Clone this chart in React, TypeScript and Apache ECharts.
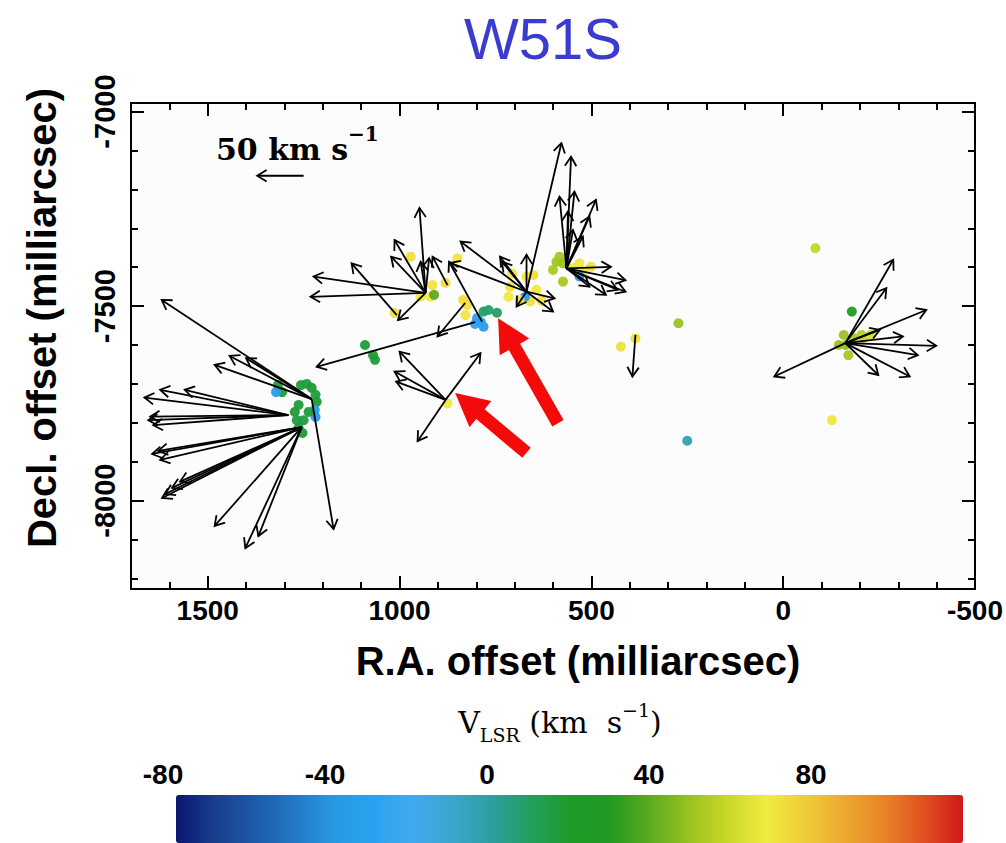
import React, { useEffect, useRef } from "react";
import * as echarts from "echarts";

// ---------- axis ticks ----------
const X_MAJOR_TICKS = [-500, 0, 500, 1000, 1500];
const X_MINOR_TICKS = [-500, -400, -300, -200, -100, 0, 100, 200, 300, 400, 500, 600, 700, 800, 900, 1000, 1100, 1200, 1300, 1400, 1500, 1600, 1700];
const Y_MAJOR_TICKS = [-8000, -7500, -7000];
const Y_MINOR_TICKS = [-8200, -8100, -8000, -7900, -7800, -7700, -7600, -7500, -7400, -7300, -7200, -7100, -7000];
const CBAR_TICKS = [-80, -40, 0, 40, 80];
const X_RANGE = [-500, 1700];
const Y_RANGE = [-8227, -6978];
const V_RANGE = [-77, 117];

// colour scale, evenly spaced along the colour bar
const CBAR_COLORS = [
  "#0b1670", "#183f8c", "#1d5aa8", "#2378c6", "#2898e4", "#2aa2f0", "#40aaf0",
  "#3aa6d0", "#2ca0a0", "#22a060", "#1e9a2a", "#209a20", "#58aa20", "#98c020",
  "#c8d828", "#f0ec40", "#f0cc38", "#eca830", "#e88428", "#e05020", "#d01818",
];

// ---------- maser spots: [R.A. offset, Decl. offset, V_LSR] ----------
const SPOTS_WEST: number[][] = [
  [1317, -7703, 16], [1306, -7721, 18], [1322, -7721, -34], [1257, -7703, 17], [1242, -7700, 15],
  [1229, -7710, 18], [1219, -7728, 16], [1216, -7746, 19], [1221, -7767, -36], [1219, -7785, -33],
  [1263, -7754, 17], [1273, -7772, 18], [1250, -7793, 16], [1263, -7813, 17], [1253, -7826, 19],
  [1268, -7793, 15], [1237, -7772, 17],
];
const SPOTS_MID_GREEN: number[][] = [[1090, -7600, 17], [1069, -7626, 18], [1064, -7638, 17]];
const SPOTS_B: number[][] = [
  [971, -7373, 72], [914, -7446, 71], [880, -7440, 73], [919, -7476, 70], [910, -7471, 40],
  [1013, -7518, 72], [849, -7377, 71], [945, -7476, 70], [875, -7750, 70],
];
const SPOTS_BLUE: number[][] = [
  [824, -7497, 72], [828, -7523, 70], [834, -7484, 73], [798, -7531, -30], [781, -7553, -33],
  [788, -7541, -31], [803, -7546, -28], [781, -7514, 10], [768, -7510, 8], [746, -7517, 10],
];
const SPOTS_C: number[][] = [
  [712, -7450, 72], [716, -7476, 70], [660, -7488, 72], [630, -7486, 71], [669, -7424, 70],
  [651, -7420, 73], [707, -7416, 71], [673, -7476, -32], [687, -7484, 72], [643, -7458, 70],
];
const SPOTS_D: number[][] = [
  [583, -7373, 52], [574, -7390, 50], [600, -7407, 53], [591, -7386, 51], [531, -7390, 70],
  [501, -7399, 72], [522, -7411, 71], [574, -7437, 52], [531, -7424, -30], [547, -7402, 68],
];
const SPOTS_EAST: number[][] = [
  [423, -7604, 72], [385, -7583, 73], [273, -7544, 50], [250, -7846, -2],
  [-84, -7351, 58], [-179, -7514, 30], [-158, -7574, 50], [-183, -7582, 52], [-204, -7574, 55],
  [-163, -7600, 48], [-145, -7600, 50], [-170, -7626, 52], [-209, -7582, 60], [-227, -7574, 62],
  [-127, -7793, 70],
];

// ---------- proper-motion vectors: origin + arrow heads ----------
const A1_ORIGIN = [1229, -7739];
const A1_HEADS = [[1620, -7484], [1443, -7628], [1400, -7634], [1482, -7651], [1172, -8073]];
const A3_ORIGIN = [1290, -7780];
const A3_HEADS = [[1624, -7715], [1665, -7735], [1560, -7715], [1650, -7784], [1642, -7806], [1655, -7793]];
const A2_ORIGIN = [1255, -7811];
const A2_HEADS = [[1645, -7880], [1624, -7895], [1629, -7872], [1619, -7993], [1593, -7967], [1572, -7951], [1611, -7983], [1482, -8065], [1402, -8122], [1368, -8091]];
const B_ORIGIN = [932, -7466];
const B_HEADS = [[1224, -7424], [1232, -7476], [1013, -7330], [1022, -7373], [948, -7248], [945, -7386], [923, -7377], [1004, -7536]];
const C_ORIGIN = [669, -7463];
const C_HEADS = [[841, -7334], [868, -7389], [578, -7081], [738, -7373], [733, -7386], [669, -7368], [695, -7501], [600, -7514], [596, -7480]];
const D_ORIGIN = [565, -7403];
const D_HEADS = [[553, -7116], [583, -7219], [544, -7206], [561, -7257], [488, -7227], [505, -7270], [548, -7304], [522, -7321], [449, -7399], [411, -7433], [411, -7463], [462, -7471], [432, -7458], [505, -7450]];
const E_ORIGIN = [-162, -7595];
const E_HEADS = [[-287, -7381], [-269, -7454], [-373, -7510], [-399, -7602], [-351, -7626], [-248, -7677], [-330, -7681], [23, -7681], [-312, -7578], [-252, -7561]];
const F_ORIGIN = [880, -7741];
const F_HEADS = [[1000, -7617], [1013, -7668], [1009, -7694], [789, -7621], [953, -7847]];
// single vectors: [x0, y0, x1, y1]
const SINGLE_VECTORS = [
  [1007, -7523, 1125, -7390], [875, -7446, 914, -7373], [829, -7492, 901, -7578],
  [785, -7540, 871, -7386], [803, -7541, 1216, -7656], [385, -7574, 393, -7681],
];
const SCALE_VECTOR = [1250, -7165, 1371, -7165];
// red annotation arrows: [tail x, tail y, tip x, tip y]
const RED_ARROWS = [[587, -7801, 743, -7531], [669, -7877, 855, -7723]];

const SANS = "'Liberation Sans', Arial, sans-serif";
const SERIF = "'DejaVu Serif', serif";

function fan(origin: number[], heads: number[][]) {
  return heads.map((h) => [origin[0], origin[1], h[0], h[1]]);
}

export default function App() {
  const ref = useRef<HTMLDivElement>(null);
  useEffect(() => {
    if (!ref.current) return;
    const chart = echarts.init(ref.current, null, { renderer: "svg" });
    const spots = [...SPOTS_WEST, ...SPOTS_MID_GREEN, ...SPOTS_B, ...SPOTS_BLUE, ...SPOTS_C, ...SPOTS_D, ...SPOTS_EAST];
    const vectors = [
      ...fan(A1_ORIGIN, A1_HEADS), ...fan(A3_ORIGIN, A3_HEADS), ...fan(A2_ORIGIN, A2_HEADS),
      ...fan(B_ORIGIN, B_HEADS), ...fan(C_ORIGIN, C_HEADS), ...fan(D_ORIGIN, D_HEADS),
      ...fan(E_ORIGIN, E_HEADS), ...fan(F_ORIGIN, F_HEADS), ...SINGLE_VECTORS, SCALE_VECTOR,
    ];
    const plain = (v: number) => String(v);
    const tickFont = { color: "#000", fontSize: 28, fontWeight: "bold", fontFamily: SANS, formatter: plain };
    const tick = (len: number) => ({ show: true, inside: true, length: len, lineStyle: { color: "#000", width: 2 } });
    const line = { show: true, onZero: false, lineStyle: { color: "#000", width: 2 } };
    const noLine = { show: false, onZero: false };
    const xBase = { type: "value", gridIndex: 0, inverse: true, min: X_RANGE[0], max: X_RANGE[1], splitLine: { show: false } };
    const yBase = { type: "value", gridIndex: 0, min: Y_RANGE[0], max: Y_RANGE[1], splitLine: { show: false } };

    const option: any = {
      animation: false,
      backgroundColor: "#ffffff",
      grid: [
        { left: 131, right: 23, top: 103, bottom: 254, show: true, borderColor: "#000", borderWidth: 2, backgroundColor: "#fcfcfc" },
        { left: 163, width: 810, top: 795, height: 40 },
      ],
      xAxis: [
        { ...xBase, position: "bottom", axisLine: line,
          axisTick: { ...tick(13), customValues: X_MAJOR_TICKS },
          axisLabel: { ...tickFont, margin: 7, customValues: X_MAJOR_TICKS } },
        { ...xBase, position: "bottom", axisLine: noLine,
          axisTick: { ...tick(7), customValues: X_MINOR_TICKS }, axisLabel: { show: false } },
        { ...xBase, position: "top", axisLine: line,
          axisTick: { ...tick(13), customValues: X_MAJOR_TICKS }, axisLabel: { show: false } },
        { ...xBase, position: "top", axisLine: noLine,
          axisTick: { ...tick(7), customValues: X_MINOR_TICKS }, axisLabel: { show: false } },
        { type: "value", gridIndex: 1, position: "top", min: -80, max: 120,
          axisLine: noLine, axisTick: { show: false }, splitLine: { show: false },
          axisLabel: { ...tickFont, margin: 7, customValues: CBAR_TICKS } },
      ],
      yAxis: [
        { ...yBase, position: "left", axisLine: line,
          axisTick: { ...tick(13), customValues: Y_MAJOR_TICKS },
          axisLabel: { ...tickFont, fontSize: 29, rotate: 90, margin: 12, customValues: Y_MAJOR_TICKS } },
        { ...yBase, position: "left", axisLine: noLine,
          axisTick: { ...tick(7), customValues: Y_MINOR_TICKS }, axisLabel: { show: false } },
        { ...yBase, position: "right", axisLine: line,
          axisTick: { ...tick(13), customValues: Y_MAJOR_TICKS }, axisLabel: { show: false } },
        { ...yBase, position: "right", axisLine: noLine,
          axisTick: { ...tick(7), customValues: Y_MINOR_TICKS }, axisLabel: { show: false } },
        { type: "value", gridIndex: 1, min: 0, max: 1, show: false },
      ],
      visualMap: {
        type: "continuous", seriesIndex: 0, dimension: 2, min: V_RANGE[0], max: V_RANGE[1],
        orient: "horizontal", left: 176, top: 795, itemWidth: 48, itemHeight: 787,
        calculable: false, padding: 0, inRange: { color: CBAR_COLORS },
      },
      series: [
        { type: "scatter", xAxisIndex: 0, yAxisIndex: 0, data: spots, symbolSize: 10, z: 2,
          itemStyle: { opacity: 0.95 } },
        { type: "custom", xAxisIndex: 0, yAxisIndex: 0, data: vectors, z: 3,
          renderItem: (_p: any, api: any) => {
            const p0 = api.coord([api.value(0), api.value(1)]);
            const p1 = api.coord([api.value(2), api.value(3)]);
            const a = Math.atan2(p1[1] - p0[1], p1[0] - p0[0]);
            const L = 11, w = 0.55;
            const h1 = [p1[0] - L * Math.cos(a - w), p1[1] - L * Math.sin(a - w)];
            const h2 = [p1[0] - L * Math.cos(a + w), p1[1] - L * Math.sin(a + w)];
            return { type: "group", children: [
              { type: "line", shape: { x1: p0[0], y1: p0[1], x2: p1[0], y2: p1[1] }, style: { stroke: "#000", lineWidth: 1.8 } },
              { type: "polyline", shape: { points: [h1, p1, h2] }, style: { stroke: "#000", lineWidth: 1.8, fill: null } },
            ] };
          } },
        { type: "custom", xAxisIndex: 0, yAxisIndex: 0, data: RED_ARROWS, z: 5,
          renderItem: (_p: any, api: any) => {
            const s = api.coord([api.value(0), api.value(1)]);
            const t = api.coord([api.value(2), api.value(3)]);
            const dx = t[0] - s[0], dy = t[1] - s[1];
            const len = Math.hypot(dx, dy);
            const ux = dx / len, uy = dy / len, nx = -uy, ny = ux;
            const H = 33, W = 17, w = 6.5;
            const b = [t[0] - ux * H, t[1] - uy * H];
            const pts = [
              [s[0] + nx * w, s[1] + ny * w], [b[0] + nx * w, b[1] + ny * w], [b[0] + nx * W, b[1] + ny * W],
              t, [b[0] - nx * W, b[1] - ny * W], [b[0] - nx * w, b[1] - ny * w], [s[0] - nx * w, s[1] - ny * w],
            ];
            return { type: "polygon", shape: { points: pts }, style: { fill: "#f50a0a" } };
          } },
      ],
      graphic: [
        { type: "text", x: 543, y: 38, style: { text: "W51S", fill: "#3b3bcf", fontSize: 58, fontFamily: SANS, align: "center", verticalAlign: "middle" } },
        { type: "text", x: 42, y: 318, rotation: Math.PI / 2, style: { text: "Decl. offset (milliarcsec)", fill: "#000", fontSize: 40, fontWeight: "bold", fontFamily: SANS, align: "center", verticalAlign: "middle" } },
        { type: "text", x: 578, y: 661, style: { text: "R.A. offset (milliarcsec)", fill: "#000", fontSize: 40, fontWeight: "bold", fontFamily: SANS, align: "center", verticalAlign: "middle" } },
        { type: "text", x: 216, y: 124, style: {
            text: "{a|50 km s}{s|−1}",
            rich: {
              a: { fontSize: 30, fontWeight: "bold", fontFamily: SERIF, fill: "#000", lineHeight: 40, verticalAlign: "bottom" },
              s: { fontSize: 20, fontWeight: "bold", fontFamily: SERIF, fill: "#000", lineHeight: 20, verticalAlign: "top" },
            } } },
        { type: "text", x: 560, y: 722, style: {
            text: "{a|V}{b|LSR}{a| (km  s}{s|−1}{a|)}",
            align: "center", verticalAlign: "middle",
            rich: {
              a: { fontSize: 30, fontFamily: SERIF, fill: "#000", lineHeight: 44, verticalAlign: "middle" },
              b: { fontSize: 19, fontFamily: SERIF, fill: "#000", lineHeight: 19, verticalAlign: "bottom" },
              s: { fontSize: 19, fontFamily: SERIF, fill: "#000", lineHeight: 19, verticalAlign: "top" },
            } } },
      ],
    };
    chart.setOption(option);
    return () => chart.dispose();
  }, []);
  return <div ref={ref} style={{ position: "absolute", left: 0, top: 0, width: 1006, height: 843 }} />;
}
